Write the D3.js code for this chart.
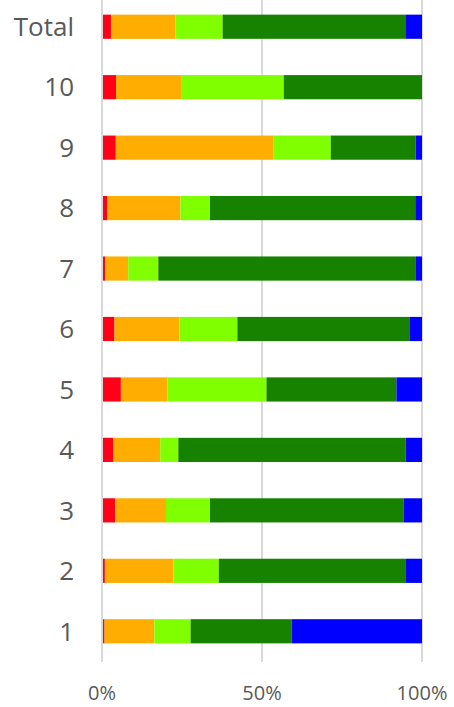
<!DOCTYPE html>
<html>
<head>
    <script src="https://d3js.org/d3.v7.min.js"></script>
    <style>
        body { margin: 0; background: #fff; }
        svg { display: block; }
    </style>
</head>
<body>
    <svg width="454" height="707"></svg>
    <script>
        // Data (percent of each row)
        const categories = ["Total", "10", "9", "8", "7", "6", "5", "4", "3", "2", "1"];
        const seriesNames = ["s1", "s2", "s3", "s4", "s5"];
        const s1 = [2.8, 4.4, 4.3, 1.7, 1.0, 3.9, 5.9, 3.6, 4.1, 0.9, 0.8];
        const s2 = [20.2, 20.3, 49.2, 22.8, 7.2, 20.3, 14.5, 14.6, 15.9, 21.4, 15.55];
        const s3 = [14.7, 32.1, 18.0, 9.25, 9.4, 18.1, 31.0, 5.65, 13.75, 14.2, 11.35];
        const s4 = [57.3, 43.2, 26.5, 64.15, 80.5, 53.95, 40.6, 71.05, 60.45, 58.3, 31.6];
        const s5 = [5.0, 0, 2.0, 2.1, 1.9, 3.75, 8.0, 5.1, 5.8, 5.2, 40.7];
        const xTicks = [0, 50, 100];
        const colors = ["#ff0019", "#ffad00", "#80ff00", "#168200", "#0000ff"];

        const rows = categories.map((c, i) => ({
            cat: c, s1: s1[i], s2: s2[i], s3: s3[i], s4: s4[i], s5: s5[i]
        }));

        const svg = d3.select("svg");

        const x = d3.scaleLinear().domain([0, 100]).range([102, 422]);
        const y = d3.scaleBand().domain(categories).range([-3.5, 661.5]).paddingInner(0.6).paddingOuter(0.3);

        // gridlines
        svg.append("g").selectAll("line")
            .data(xTicks)
            .enter().append("line")
            .attr("x1", d => x(d)).attr("x2", d => x(d))
            .attr("y1", 0).attr("y2", 662)
            .attr("stroke", "#d9d9d9")
            .attr("stroke-width", 2);

        const stack = d3.stack().keys(seriesNames)(rows);

        svg.append("g").selectAll("g")
            .data(stack)
            .enter().append("g")
            .attr("fill", (d, i) => colors[i])
            .selectAll("rect")
            .data(d => d)
            .enter().append("rect")
            .attr("x", d => x(d[0]) + (d[0] === 0 ? 1 : 0))
            .attr("width", d => Math.max(0, x(d[1]) - x(d[0]) - (d[0] === 0 ? 1 : 0)))
            .attr("y", d => y(d.data.cat))
            .attr("height", y.bandwidth());

        // category labels
        svg.append("g").selectAll("text")
            .data(categories)
            .enter().append("text")
            .attr("x", 74)
            .attr("y", d => y(d) + y.bandwidth() / 2 + 9.3)
            .attr("text-anchor", "end")
            .style("font-family", "'Open Sans', sans-serif")
            .style("font-size", "26px")
            .style("fill", "#595959")
            .text(d => d);

        // x tick labels
        svg.append("g").selectAll("text")
            .data(xTicks)
            .enter().append("text")
            .attr("x", d => x(d))
            .attr("y", 699.5)
            .attr("text-anchor", "middle")
            .style("font-family", "'Open Sans', sans-serif")
            .style("font-size", "20px")
            .style("fill", "#595959")
            .text(d => d + "%");
    </script>
</body>
</html>
